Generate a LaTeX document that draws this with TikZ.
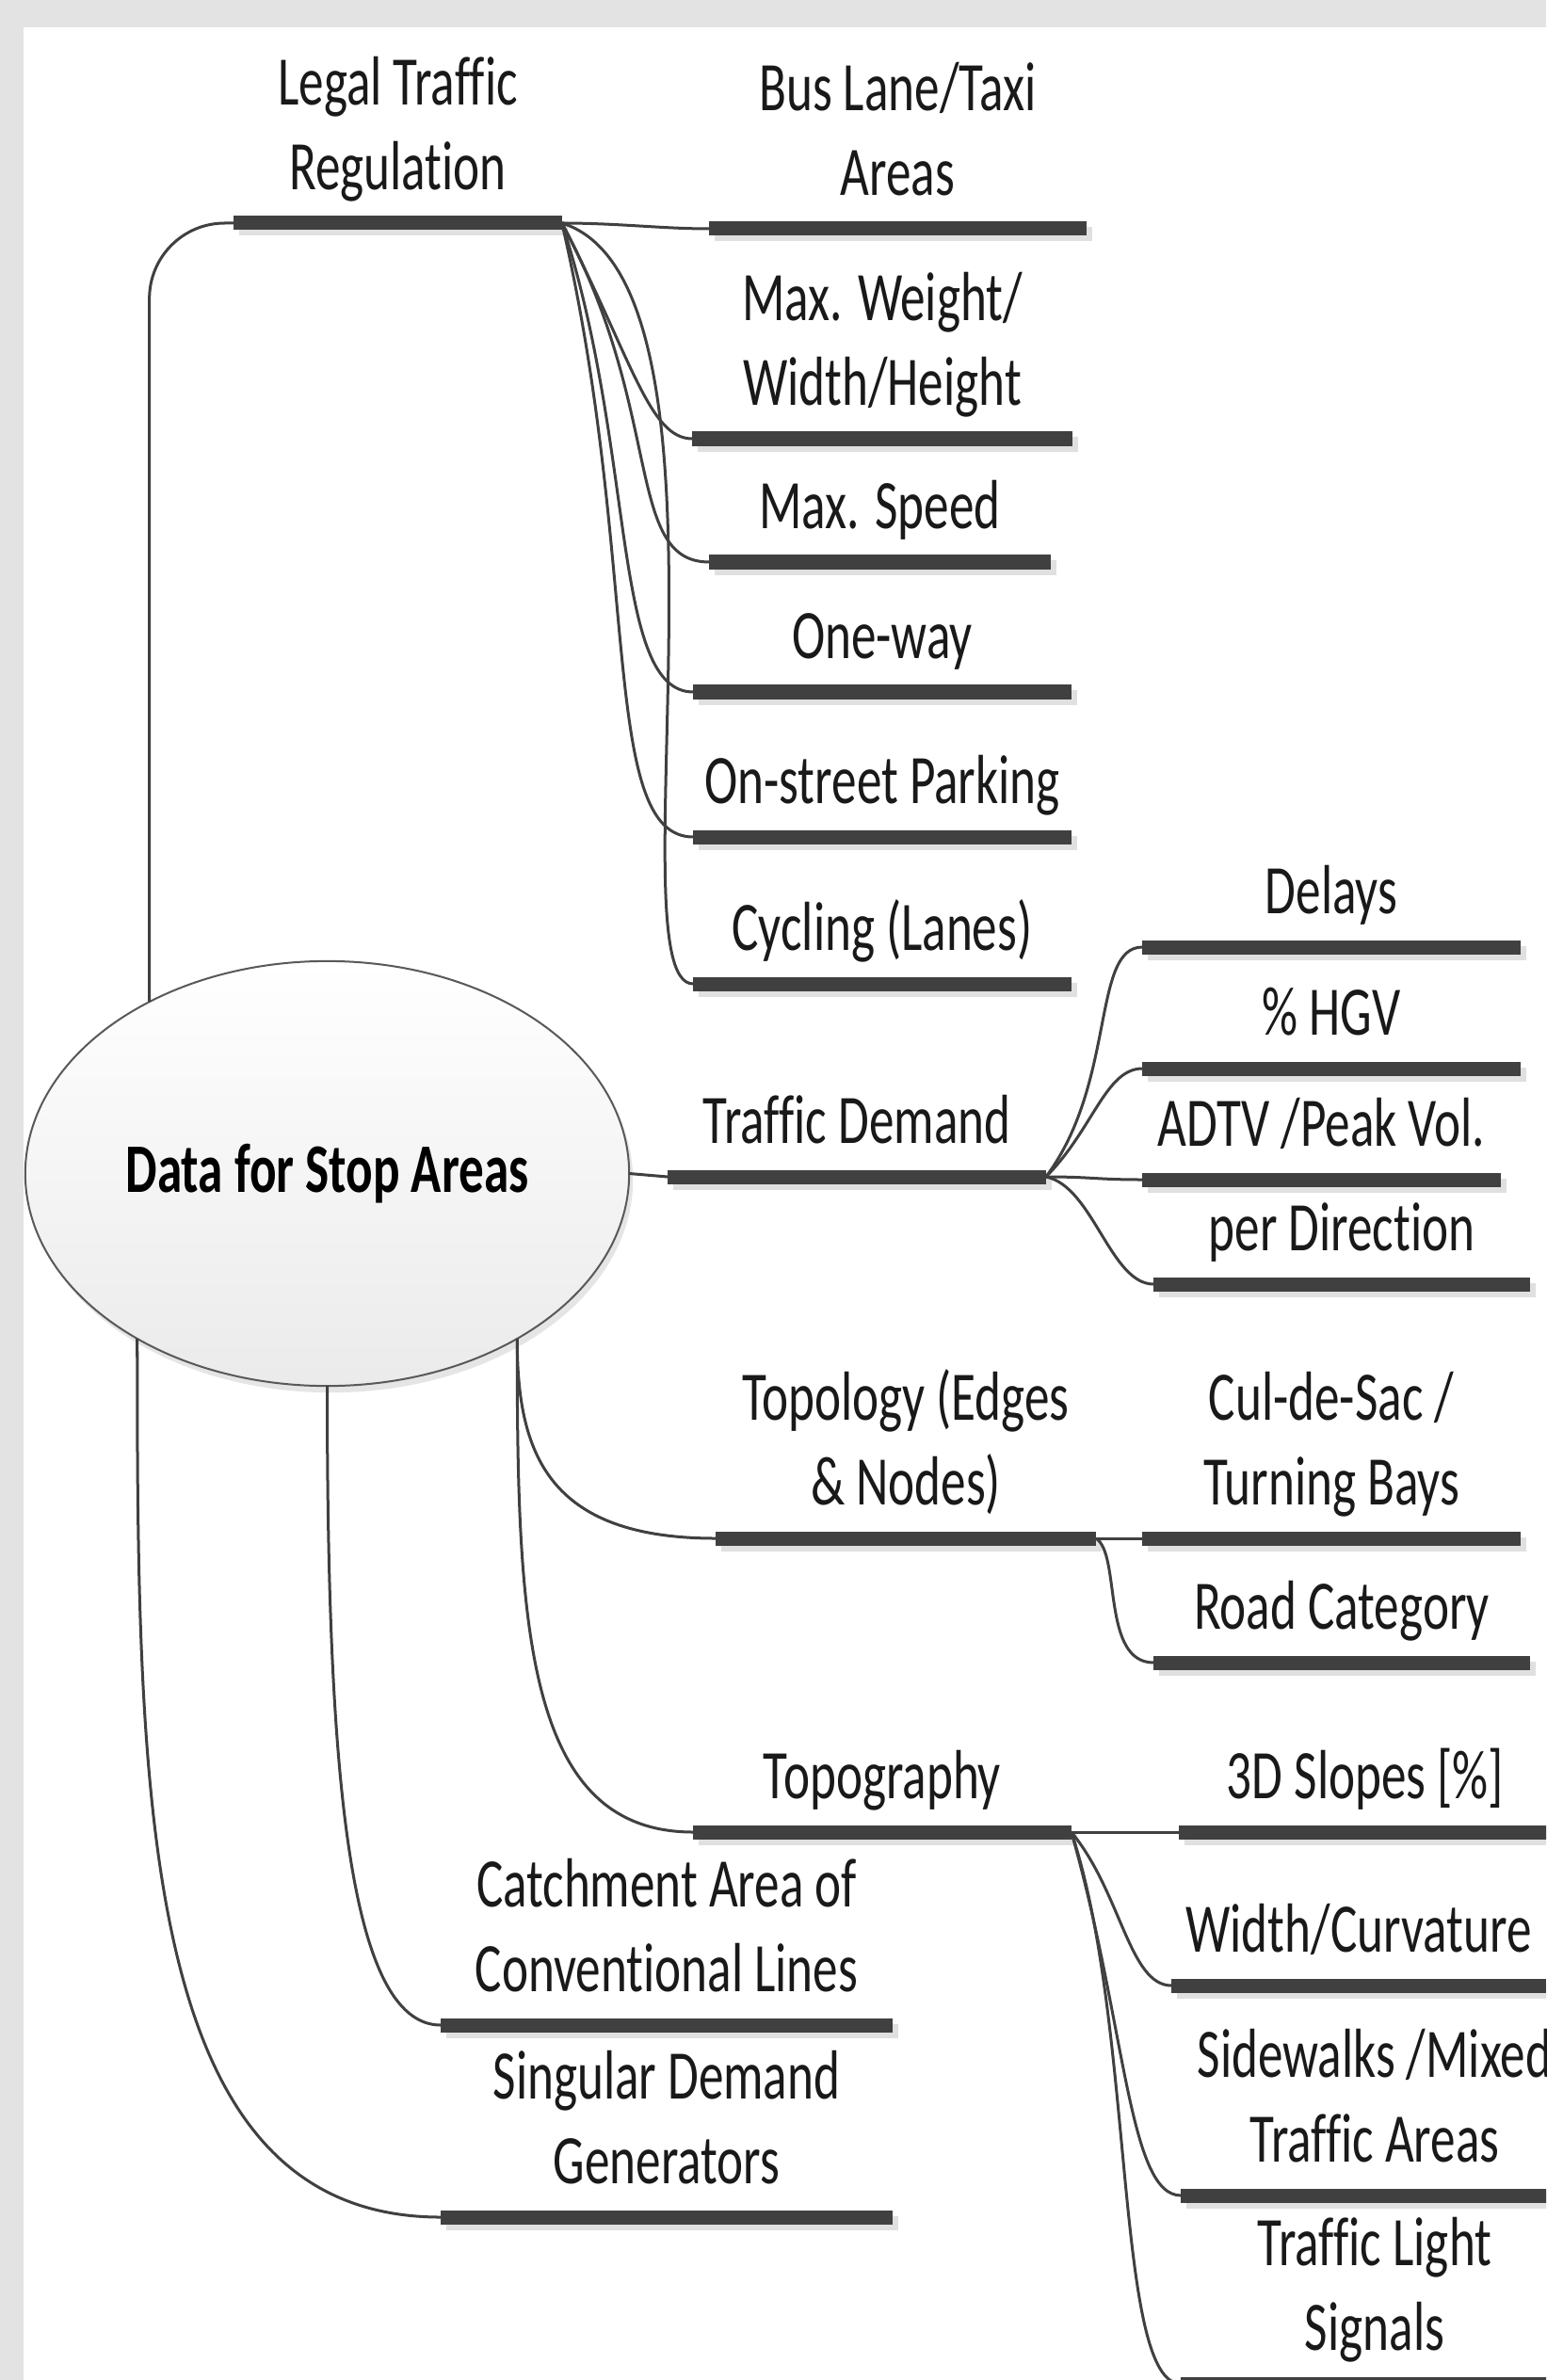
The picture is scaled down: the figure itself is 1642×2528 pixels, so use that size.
\documentclass[tikz,border=0pt]{standalone}
\usepackage{fontspec}
\setmainfont{Carlito}[FakeStretch=0.72, Ligatures=NoCommon]
\usetikzlibrary{shapes.geometric, shadows}

\definecolor{barcol}{HTML}{404040}
\definecolor{framecol}{HTML}{E3E3E3}

\tikzset{
	topic/.style = {anchor = south, align = center, inner xsep = 0pt, inner ysep = 0.35cm, text depth = 0pt, minimum width = #1, text = black!90},
	bar/.style = {line width = 0.15cm, barcol},
	barshadow/.style = {line width = 0.15cm, black!12},
	conn/.style = {line width = 0.03cm, barcol},
	root/.style = {ellipse, minimum width = 6.41cm, minimum height = 4.51cm, inner sep = 0pt, outer sep = 0pt, draw = black!65, line width = 0.02cm, top color = white, bottom color = black!8, font = \fontsize{21pt}{25.6pt}\selectfont\bfseries, drop shadow = {fill = black!10, opacity = 1, shadow xshift = 0.04cm, shadow yshift = -0.07cm}}
}

\begin{document}
\begin{tikzpicture}[x = 0.01cm, y = 0.01cm, font = \fontsize{21pt}{25.6pt}\selectfont]
	 \useasboundingbox (0, 0) rectangle (1642, -2528);
	 \clip (0, 0) rectangle (1642, -2528);
	 \fill[framecol] (0, 0) rectangle (1642, -2528);
	 \fill[white] (25, -29) rectangle (1642, -2528);

	 \node[root] (root) at (347.5, -1246.5) {Data for Stop Areas};

	 % legal traffic regulation
	 \node[topic = 3.47cm] (lg) at (422.5, -237) {Legal Traffic\\Regulation};
	 \node[topic = 3.99cm] (bus) at (953.5, -243) {Bus Lane/Taxi\\Areas};
	 \node[topic = 4.02cm] (mw) at (937, -466) {Max. Weight/\\Width/Height};
	 \node[topic = 3.61cm] (ms) at (934.5, -597) {Max. Speed};
	 \node[topic = 4cm] (ow) at (937, -735) {One-way};
	 \node[topic = 4cm] (osp) at (937, -889) {On-street Parking};
	 \node[topic = 4cm] (cyc) at (937, -1045) {Cycling (Lanes)};

	 % traffic demand
	 \node[topic = 4cm] (td) at (910, -1250) {Traffic Demand};
	 \node[topic = 4cm] (del) at (1414, -1006) {Delays};
	 \node[topic = 4cm] (hgv) at (1414, -1135) {\% HGV};
	 \node[topic = 3.79cm] (adtv) at (1403.5, -1253) {ADTV /Peak Vol.};
	 \node[topic = 3.98cm] (dir) at (1425, -1364) {per Direction};

	 % topology
	 \node[topic = 4.02cm] (topo) at (962, -1634) {Topology (Edges\\\& Nodes)};
	 \node[topic = 4cm] (cul) at (1414, -1634) {Cul-de-Sac /\\Turning Bays};
	 \node[topic = 3.98cm] (road) at (1425, -1766) {Road Category};

	 % topography
	 \node[topic = 4cm] (tgr) at (937, -1946) {Topography};
	 \node[topic = 3.94cm] (slope) at (1450, -1946) {3D Slopes [\%]};
	 \node[topic = 3.96cm] (curv) at (1443, -2109) {Width/Curvature};
	 \node[topic = 4.1cm] (side) at (1460, -2332) {Sidewalks /Mixed\\Traffic Areas};
	 \node[topic = 4.1cm] (light) at (1460, -2532) {Traffic Light\\Signals};

	 \node[topic = 4.78cm] (catch) at (708, -2151) {Catchment Area of\\Conventional Lines};
	 \node[topic = 4.78cm] (sing) at (708, -2355) {Singular Demand\\Generators};

	 \foreach \n in {lg, bus, mw, ms, ow, osp, cyc, td, del, hgv, adtv, dir, topo, cul, road, tgr, slope, curv, side, light, catch, sing}
	 {
	 \draw[barshadow] ([shift = {(6, -6)}]\n.south west) -- ([shift = {(6, -6)}]\n.south east);
	 \draw[bar] (\n.south west) -- (\n.south east);
	 }

	 % branches of the root
	 \draw[conn, rounded corners = 0.8cm] (root.136.4) |- (lg.south west);
	 \draw[conn] (root.east) -- (td.south west);
	 \draw[conn] (root.-41.3) .. controls +(0, -120) and +(-180, 0) .. (topo.south west);
	 \draw[conn] (root.-41.3) .. controls +(0, -300) and +(-180, 0) .. (tgr.south west);
	 \draw[conn] (root.south) .. controls +(0, -400) and +(-100, 0) .. (catch.south west);
	 \draw[conn] (root.221.8) .. controls +(0, -500) and +(-318, 0) .. (sing.south west);

	 \foreach \n/\a/\b/\c in {bus/60/0/50, mw/74/-143/46, ms/109/-200/90, ow/79/-243/87, osp/84/-363/100, cyc/204/-63/87}
	 \draw[conn] (lg.south east) .. controls +(\a, \b) and +(-\c, 0) .. (\n.south west);

	 \foreach \n/\a/\b/\c in {del/75/100/54, hgv/50/50/39, adtv/50/0/50, dir/50/-10/46}
	 \draw[conn] (td.south east) .. controls +(\a, \b) and +(-\c, 0) .. (\n.south west);

	 \foreach \n/\a/\b/\c in {cul/25/0/25, road/27/-16/56}
	 \draw[conn] (topo.south east) .. controls +(\a, \b) and +(-\c, 0) .. (\n.south west);

	 \foreach \n/\a/\b/\c in {slope/50/0/50, curv/53/-64/45, side/58/-204/56, light/68/-204/71}
	 \draw[conn] (tgr.south east) .. controls +(\a, \b) and +(-\c, 0) .. (\n.south west);
\end{tikzpicture}
\end{document}
